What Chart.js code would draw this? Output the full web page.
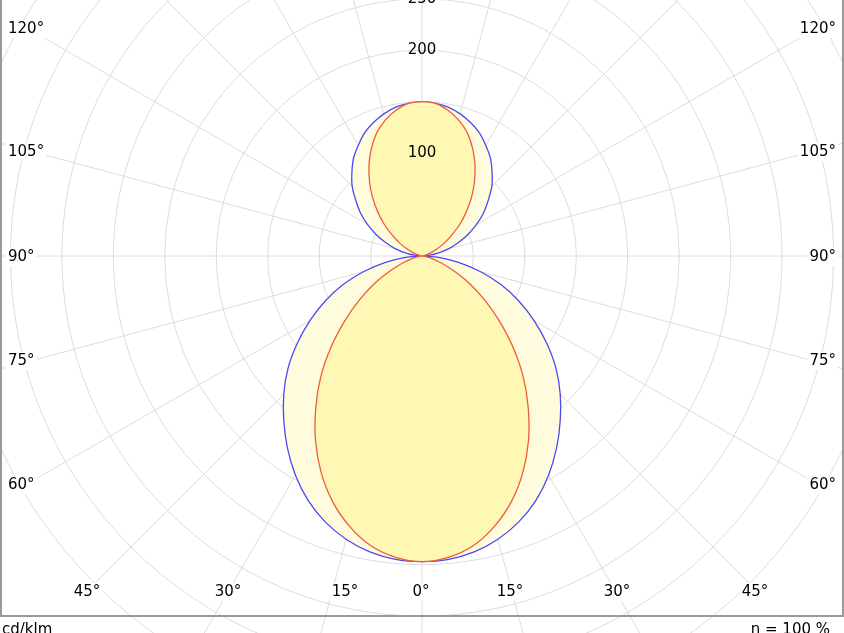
<!DOCTYPE html>
<html><head><meta charset="utf-8">
<script src="https://cdn.jsdelivr.net/npm/chart.js@4"></script>
<style>
html,body{margin:0;padding:0;background:#fff;}
#outer{position:relative;width:844px;height:633px;overflow:hidden;font-family:"DejaVu Sans",Verdana,sans-serif;}
#wrap{position:absolute;left:-41px;top:-207px;width:926px;height:926px;}
#frame{position:absolute;left:0;top:-5px;width:840px;height:620px;border:2px solid #999;border-top:none;box-sizing:content-box;pointer-events:none;}
.bt{position:absolute;font-size:15px;color:#000;top:620px;}
</style></head><body>
<div id="outer">
<div id="wrap"><canvas id="c" width="926" height="926"></canvas></div>
<div id="frame"></div>
<div class="bt" style="left:2px">cd/klm</div>
<div class="bt" style="right:14px">η = 100 %</div>
</div>
<script>
// gamma angles 0..180 step 5
const gammas = [0,5,10,15,20,25,30,35,40,45,50,55,60,65,70,75,80,85,90,95,100,105,110,115,120,125,130,135,140,145,150,155,160,165,170,175,180];
const seriesC0 = [297,296,292,285,275,262,246,228,209,190,170,148,126,104,82,59,36,16,0,6,15,26,37,49,61,73,84,96,106,116,124,132,138,143,147,149,150];
const seriesC90 = [297,294,286,272,254,232,207,180,153,125,98,74,53,34,20,10,4,1,0,0,2,4,9,16,25,35,48,61,75,89,103,116,128,137,144,149,150];
const tickLabels = [100,200,250];
const sideLabels = ['120°','105°','90°','75°','60°'];
const sideY = [29,152,257,361,485];
const bottomLabels = ['45°','30°','15°','0°','15°','30°','45°'];
const bottomX = [87,228,345,421,510,617,755];

const labels=[]; const d0=[]; const d90=[];
for(let a=0;a<360;a+=5){
  labels.push(a);
  const g = a<=180 ? a : 360-a;
  const i = gammas.indexOf(g);
  d0.push(seriesC0[i]); d90.push(seriesC90[i]);
}
const OX=41, OY=207;
const FONT='15px "DejaVu Sans", Verdana, sans-serif';
const labelPlugin={id:'lbl',afterDraw(chart){
  const ctx=chart.ctx; ctx.save();
  ctx.font=FONT; ctx.textBaseline='middle';
  const put=(t,x,y,align,bg)=>{
    const w=ctx.measureText(t).width; let lx = align==='left'?x:(align==='right'?x-w:x-w/2);
    if(bg){ctx.fillStyle='#fff'; ctx.fillRect(lx+OX-2,y+OY-9,w+4,18);}
    ctx.fillStyle='#000'; ctx.textAlign='left'; ctx.fillText(t,lx+OX,y+OY);
  };
  sideLabels.forEach((t,i)=>{put(t,8,sideY[i],'left',true);put(t,836,sideY[i],'right',true);});
  bottomLabels.forEach((t,i)=>put(t,bottomX[i],592,'center',true));
  const r=chart.scales.r;
  tickLabels.forEach(v=>{
    const d=r.getDistanceFromCenterForValue(v);
    ctx.fillStyle='#000'; ctx.textAlign='center';
    ctx.fillText(String(v), r.xCenter, r.yCenter-d);
  });
  ctx.restore();
}};
new Chart(document.getElementById('c'),{
  type:'radar',
  data:{labels,datasets:[
    {label:'C90-C270',data:d90,borderColor:'#f05a3c',borderWidth:1.3,backgroundColor:'rgba(255,246,170,0.8)',fill:true,pointRadius:0,order:0},
    {label:'C0-C180',data:d0,borderColor:'#4a4af0',borderWidth:1.3,backgroundColor:'rgba(255,252,218,0.9)',fill:true,pointRadius:0,order:1}
  ]},
  options:{responsive:false,animation:false,events:[],layout:{padding:0},
    plugins:{legend:{display:false},tooltip:{enabled:false}},
    elements:{line:{tension:0.3}},
    scales:{r:{min:0,max:450,startAngle:180,
      ticks:{stepSize:50,display:false},
      grid:{circular:true,color:'#dcdcdc',lineWidth:1},
      angleLines:{display:true,lineWidth:1,color:ctx=>ctx.index%3===0?'#dcdcdc':'rgba(0,0,0,0)'},
      pointLabels:{display:false}
    }}
  },
  plugins:[labelPlugin]
});
</script>
</body></html>
